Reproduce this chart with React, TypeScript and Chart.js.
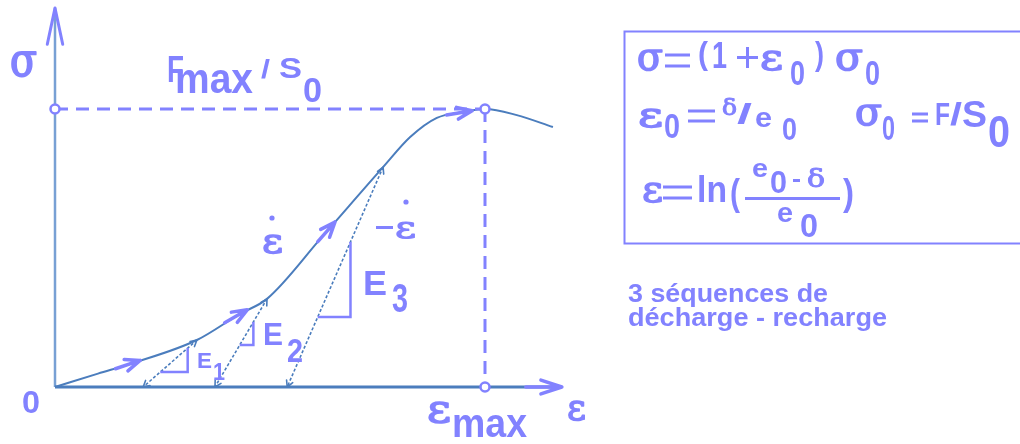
import React, { useEffect, useRef } from "react";
import { Chart, registerables } from "chart.js";

Chart.register(...registerables);

// ---- data (strain in units of ε_max, stress in units of F_max/S0) ----
const curveStrain = [0, 0.1, 0.181, 0.33, 0.43, 0.493, 0.621, 0.763, 0.826, 0.888, 0.949, 1.0, 1.074, 1.158];
const curveStress = [0, 0.048, 0.086, 0.169, 0.263, 0.317, 0.54, 0.791, 0.899, 0.968, 0.989, 1.0, 0.978, 0.935];

const unloadTopStrain = [0.33, 0.493, 0.763];
const unloadTopStress = [0.169, 0.317, 0.791];
const unloadFootStrain = [0.205, 0.372, 0.54];

const modulusTopStress = [0.14, 0.234, 0.522];
const modulusBottomStress = [0.054, 0.151, 0.252];

const loadArrowStrain = [0.198, 0.447, 0.651, 0.97];

const peakStrain = 1;
const peakStress = 1;
const axisStrainEnd = 1.174;
const axisStressEnd = 1.363;

// axis ranges (hidden scales)
const X_MIN = -0.12791;
const X_MAX = 2.24419;
const Y_MIN = -0.20504;
const Y_MAX = 1.39209;

const PERI = "#8282ff";
const STEEL = "#4b7dbd";
const AXIS_Y = "#78a0d4";

const SANS = '"Liberation Sans", Arial, sans-serif';
const SERIF = '"DejaVu Serif", "Liberation Serif", serif';

function stressAt(e: number): number {
  for (let i = 1; i < curveStrain.length; i++) {
    if (e <= curveStrain[i]) {
      const t = (e - curveStrain[i - 1]) / (curveStrain[i] - curveStrain[i - 1]);
      return curveStress[i - 1] + t * (curveStress[i] - curveStress[i - 1]);
    }
  }
  return curveStress[curveStress.length - 1];
}

function unloadStrainAt(i: number, s: number): number {
  return unloadFootStrain[i] + ((unloadTopStrain[i] - unloadFootStrain[i]) * s) / unloadTopStress[i];
}

function txt(
  ctx: CanvasRenderingContext2D,
  s: string,
  x: number,
  base: number,
  size: number,
  target: number | null,
  serif = false,
  bold = true
) {
  ctx.save();
  ctx.font = `${bold ? "bold " : ""}${size}px ${serif ? SERIF : SANS}`;
  ctx.fillStyle = PERI;
  ctx.textBaseline = "alphabetic";
  const w = ctx.measureText(s).width;
  const sx = target ? target / w : 1;
  ctx.translate(x, base);
  ctx.scale(sx, 1);
  ctx.fillText(s, 0, 0);
  ctx.restore();
}

// greek glyph: regular serif, thickened with a stroke
function greek(ctx: CanvasRenderingContext2D, s: string, x: number, base: number, size: number, target: number) {
  ctx.save();
  ctx.font = `${size}px ${SERIF}`;
  ctx.fillStyle = PERI;
  ctx.strokeStyle = PERI;
  ctx.lineWidth = Math.max(1, size / 26);
  ctx.lineJoin = "round";
  ctx.textBaseline = "alphabetic";
  const w = ctx.measureText(s).width;
  ctx.translate(x, base);
  ctx.scale(target / w, 1);
  ctx.fillText(s, 0, 0);
  ctx.strokeText(s, 0, 0);
  ctx.restore();
}

function eq(ctx: CanvasRenderingContext2D, x0: number, x1: number, y0: number, y1: number, t = 3) {
  ctx.save();
  ctx.fillStyle = PERI;
  ctx.fillRect(x0, y0 - t / 2, x1 - x0, t);
  ctx.fillRect(x0, y1 - t / 2, x1 - x0, t);
  ctx.restore();
}

function plus(ctx: CanvasRenderingContext2D, x0: number, x1: number, y0: number, y1: number, t = 3) {
  ctx.save();
  ctx.fillStyle = PERI;
  ctx.fillRect(x0, (y0 + y1) / 2 - t / 2, x1 - x0, t);
  ctx.fillRect((x0 + x1) / 2 - t / 2, y0, t, y1 - y0);
  ctx.restore();
}

function chevron(
  ctx: CanvasRenderingContext2D,
  tx: number,
  ty: number,
  dx: number,
  dy: number,
  len: number,
  ang: number,
  color: string,
  width: number,
  shaft = 0
) {
  const n = Math.hypot(dx, dy);
  const ux = dx / n;
  const uy = dy / n;
  ctx.save();
  ctx.strokeStyle = color;
  ctx.lineWidth = width;
  ctx.lineCap = "round";
  ctx.lineJoin = "round";
  ctx.beginPath();
  for (const sgn of [1, -1]) {
    const a = sgn * ang;
    const bx = -(ux * Math.cos(a) - uy * Math.sin(a));
    const by = -(ux * Math.sin(a) + uy * Math.cos(a));
    ctx.moveTo(tx, ty);
    ctx.lineTo(tx + bx * len, ty + by * len);
  }
  if (shaft > 0) {
    ctx.moveTo(tx, ty);
    ctx.lineTo(tx - ux * shaft, ty - uy * shaft);
  }
  ctx.stroke();
  ctx.restore();
}

const decorPlugin = {
  id: "decor",
  afterDatasetsDraw(chart: any) {
    const ctx: CanvasRenderingContext2D = chart.ctx;
    const xs = chart.scales.x;
    const ys = chart.scales.y;
    const P = (e: number, s: number) => [xs.getPixelForValue(e), ys.getPixelForValue(s)];

    // axis arrows
    const [yx, yTop] = P(0, axisStressEnd);
    chevron(ctx, yx, yTop, 0, -1, 37, 0.21, PERI, 3);
    const [xEnd, xy] = P(axisStrainEnd, 0);
    chevron(ctx, xEnd + 2, xy, 1, 0, 22, 0.32, PERI, 3.5, 36);

    // loading arrows on the curve
    loadArrowStrain.forEach((e) => {
      const [px, py] = P(e, stressAt(e));
      const [qx, qy] = P(e - 0.03, stressAt(e - 0.03));
      chevron(ctx, px, py, px - qx, py - qy, 16, 0.38, PERI, 3.5, 26);
    });

    // small arrowheads on unload / reload lines
    unloadTopStrain.forEach((_, i) => {
      const [fx, fy] = P(unloadFootStrain[i], 0);
      const [tx, ty] = P(unloadTopStrain[i], unloadTopStress[i]);
      chevron(ctx, fx, fy, fx - tx, fy - ty, 7, 0.5, STEEL, 1.6);
      chevron(ctx, tx, ty, tx - fx, ty - fy, 7, 0.5, STEEL, 1.6);
    });

    // ---- chart labels ----
    greek(ctx, "σ", 10, 76, 46, 27);
    txt(ctx, "F", 167, 82, 37, 17);
    txt(ctx, "max", 175, 93, 42, 78);
    txt(ctx, "/", 261, 78, 26, 9);
    txt(ctx, "S", 279, 78, 30, 23);
    txt(ctx, "0", 303, 102, 35, 19);

    txt(ctx, "0", 22, 413, 32, 18);
    greek(ctx, "ε", 427, 422, 40, 24);
    txt(ctx, "max", 452, 437, 40, 75);
    greek(ctx, "ε", 567, 420, 38, 19);

    // ε̇ labels
    greek(ctx, "ε", 262, 253, 36, 21);
    ctx.save();
    ctx.fillStyle = PERI;
    ctx.beginPath();
    ctx.arc(272, 218, 2.6, 0, Math.PI * 2);
    ctx.fill();
    ctx.fillRect(376, 226, 17, 3);
    ctx.beginPath();
    ctx.arc(406, 202, 2.6, 0, Math.PI * 2);
    ctx.fill();
    ctx.restore();
    greek(ctx, "ε", 395, 238, 30, 21);

    // modulus labels
    txt(ctx, "E", 197, 368, 22, 15);
    txt(ctx, "1", 213, 380, 24, 12);
    txt(ctx, "E", 263, 345, 32, 20);
    txt(ctx, "2", 287, 362, 33, 16);
    txt(ctx, "E", 363, 295, 35, 24);
    txt(ctx, "3", 392, 312, 40, 16);

    // ---- formula box ----
    ctx.save();
    ctx.strokeStyle = PERI;
    ctx.lineWidth = 2;
    ctx.strokeRect(624.5, 31.5, 420, 212);
    ctx.restore();

    // line 1 : σ = (1 + ε0) σ0
    greek(ctx, "σ", 637, 70, 40, 26);
    eq(ctx, 665, 690, 55, 66);
    txt(ctx, "(", 698, 64, 32, 10);
    txt(ctx, "1", 712, 68, 36, 15);
    plus(ctx, 737, 758, 47, 68);
    greek(ctx, "ε", 760, 70, 35, 23);
    txt(ctx, "0", 790, 85, 35, 15);
    txt(ctx, ")", 815, 65, 33, 9);
    greek(ctx, "σ", 835, 70, 40, 28);
    txt(ctx, "0", 865, 85, 35, 15);

    // line 2 : ε0 = δ/e0    σ0 = F/S0
    greek(ctx, "ε", 638, 127, 36, 25);
    txt(ctx, "0", 664, 138, 35, 16);
    eq(ctx, 688, 715, 111, 121);
    greek(ctx, "δ", 722, 115, 23, 15);
    txt(ctx, "/", 737, 123, 28, 15);
    txt(ctx, "e", 755, 127, 28, 17);
    txt(ctx, "0", 782, 140, 32, 15);
    greek(ctx, "σ", 855, 125, 40, 27);
    txt(ctx, "0", 882, 140, 35, 13);
    eq(ctx, 912, 928, 114, 121);
    txt(ctx, "F", 935, 125, 32, 15);
    txt(ctx, "/", 950, 125, 32, 12);
    txt(ctx, "S", 962, 127, 37, 25);
    txt(ctx, "0", 988, 147, 44, 22);

    // line 3 : ε = ln((e0 - δ)/e0)
    greek(ctx, "ε", 642, 202, 35, 21);
    eq(ctx, 663, 692, 187, 198);
    txt(ctx, "ln", 697, 202, 37, 30);
    txt(ctx, "(", 730, 205, 36, 10);
    txt(ctx, "e", 752, 177, 26, 16);
    txt(ctx, "0", 770, 193, 32, 17);
    ctx.save();
    ctx.fillStyle = PERI;
    ctx.fillRect(793, 179, 7, 3);
    ctx.fillRect(745, 197, 95, 3);
    ctx.restore();
    greek(ctx, "δ", 807, 187, 25, 18);
    txt(ctx, ")", 843, 205, 36, 11);
    txt(ctx, "e", 777, 222, 28, 16);
    txt(ctx, "0", 800, 237, 33, 18);

    // note
    txt(ctx, "3 séquences de", 628, 302, 26, 200);
    txt(ctx, "décharge - recharge", 628, 326, 26, 259);
  },
};

export default function App() {
  const ref = useRef<HTMLCanvasElement | null>(null);

  useEffect(() => {
    if (!ref.current) return;

    const curve = curveStrain.map((x, i) => ({ x, y: curveStress[i] }));

    const unloads = unloadTopStrain.map((_, i) => ({
      type: "line" as const,
      label: `unload ${i + 1}`,
      data: [
        { x: unloadTopStrain[i], y: unloadTopStress[i] },
        { x: unloadFootStrain[i], y: 0 },
      ],
      borderColor: STEEL,
      borderWidth: 1.6,
      borderDash: [3, 2],
      pointRadius: 0,
      order: 4,
    }));

    const triangles = unloadTopStrain.map((_, i) => {
      const eTop = unloadStrainAt(i, modulusTopStress[i]);
      const eBot = unloadStrainAt(i, modulusBottomStress[i]);
      return {
        type: "line" as const,
        label: `E${i + 1}`,
        data: [
          { x: eTop, y: modulusTopStress[i] },
          { x: eTop, y: modulusBottomStress[i] },
          { x: eBot, y: modulusBottomStress[i] },
        ],
        borderColor: PERI,
        borderWidth: 2.5,
        pointRadius: 0,
        tension: 0,
        order: 2,
      };
    });

    const chart = new Chart(ref.current, {
      type: "line",
      data: {
        datasets: [
          {
            type: "scatter",
            label: "marks",
            data: [
              { x: 0, y: peakStress },
              { x: peakStrain, y: peakStress },
              { x: peakStrain, y: 0 },
            ],
            pointRadius: 4.5,
            pointBorderWidth: 2.5,
            pointBorderColor: PERI,
            pointBackgroundColor: "#ffffff",
            showLine: false,
            order: 0,
          } as any,
          {
            label: "curve",
            data: curve,
            borderColor: STEEL,
            borderWidth: 2,
            pointRadius: 0,
            cubicInterpolationMode: "monotone",
            order: 3,
          },
          ...unloads,
          ...triangles,
          {
            label: "Fmax guide",
            data: [
              { x: 0, y: peakStress },
              { x: peakStrain, y: peakStress },
            ],
            borderColor: PERI,
            borderWidth: 3,
            borderDash: [13, 8],
            pointRadius: 0,
            order: 1,
          },
          {
            label: "emax guide",
            data: [
              { x: peakStrain, y: peakStress },
              { x: peakStrain, y: 0 },
            ],
            borderColor: PERI,
            borderWidth: 3,
            borderDash: [13, 8],
            pointRadius: 0,
            order: 1,
          },
          {
            label: "x axis",
            data: [
              { x: 0, y: 0 },
              { x: axisStrainEnd, y: 0 },
            ],
            borderColor: STEEL,
            borderWidth: 3,
            pointRadius: 0,
            order: 5,
          },
          {
            label: "y axis",
            data: [
              { x: 0, y: 0 },
              { x: 0, y: axisStressEnd },
            ],
            borderColor: AXIS_Y,
            borderWidth: 2.5,
            pointRadius: 0,
            order: 5,
          },
        ],
      },
      options: {
        responsive: false,
        animation: false,
        layout: { padding: 0, autoPadding: false },
        plugins: {
          legend: { display: false },
          tooltip: { enabled: false },
          title: { display: false },
        },
        elements: { line: { fill: false } },
        scales: {
          x: { type: "linear", min: X_MIN, max: X_MAX, display: false },
          y: { type: "linear", min: Y_MIN, max: Y_MAX, display: false },
        },
      },
      plugins: [decorPlugin],
    });

    return () => chart.destroy();
  }, []);

  return (
    <div style={{ position: "absolute", left: 0, top: 0, width: 1020, height: 444, background: "#fff" }}>
      <canvas ref={ref} width={1020} height={444} style={{ display: "block" }} />
    </div>
  );
}
